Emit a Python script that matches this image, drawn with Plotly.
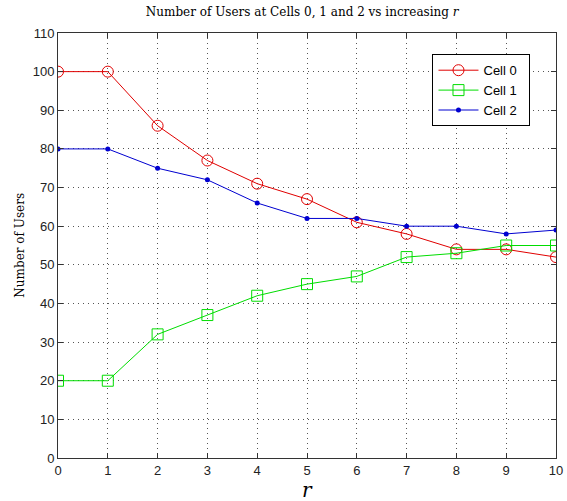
import plotly.graph_objects as go

r_values = [0, 1, 2, 3, 4, 5, 6, 7, 8, 9, 10]
cell0 = [100, 100, 86, 77, 71, 67, 61, 58, 54, 54, 52]
cell1 = [20, 20, 32, 37, 42, 45, 47, 52, 53, 55, 55]
cell2 = [80, 80, 75, 72, 66, 62, 62, 60, 60, 58, 59]
series_names = ["Cell 0", "Cell 1", "Cell 2"]
x_ticks = list(range(0, 11))
y_ticks = list(range(0, 111, 10))

pad = "\u00a0\u00a0"
fig = go.Figure()
fig.add_trace(go.Scatter(x=r_values, y=cell0, name=series_names[0] + pad, mode="lines+markers",
                         line=dict(color="#e00000", width=1),
                         marker=dict(symbol="circle-open", size=11, color="#e00000", line=dict(width=1))))
fig.add_trace(go.Scatter(x=r_values, y=cell1, name=series_names[1] + pad, mode="lines+markers",
                         line=dict(color="#00dd00", width=1),
                         marker=dict(symbol="square-open", size=11, color="#00dd00", line=dict(width=1))))
fig.add_trace(go.Scatter(x=r_values, y=cell2, name=series_names[2] + pad, mode="lines+markers",
                         line=dict(color="#0000d0", width=1),
                         marker=dict(symbol="circle", size=5, color="#0000d0")))

axis_common = dict(
    showline=True, linecolor="#333", linewidth=1, mirror="ticks",
    ticks="inside", ticklen=5, tickcolor="#333",
    showgrid=True, gridcolor="#555", griddash="1px,4px", gridwidth=1,
    zeroline=False, automargin=False,
    tickfont=dict(family="Liberation Sans, Arial", size=13, color="#222"),
)

fig.update_xaxes(range=[0, 10], tickvals=x_ticks, **axis_common)
fig.update_yaxes(range=[0, 110], tickvals=y_ticks, **axis_common)

fig.update_layout(
    width=567, height=501,
    margin=dict(l=58, r=11, t=33, b=43),
    paper_bgcolor="white", plot_bgcolor="white",
    title=dict(text="Number of Users at Cells 0, 1 and 2 vs increasing <i>r</i>",
               font=dict(family="DejaVu Serif, serif", size=12, color="black"),
               x=0.533, xanchor="center", y=0.985, yanchor="top"),
    legend=dict(x=0.752, y=0.95, xanchor="left", yanchor="top",
                bordercolor="black", borderwidth=1, bgcolor="white",
                font=dict(family="Liberation Sans, Arial", size=13, color="black"),
                tracegroupgap=0, itemwidth=40),
    showlegend=True,
)
fig.add_annotation(text="<i>r</i>", xref="paper", yref="paper", x=0.5, y=-0.075,
                   xanchor="center", yanchor="middle", showarrow=False,
                   font=dict(family="DejaVu Serif, serif", size=20, color="black"))
fig.add_annotation(text="Number of Users", xref="paper", yref="paper", x=-0.078, y=0.5,
                   xanchor="center", yanchor="middle", textangle=-90, showarrow=False,
                   font=dict(family="DejaVu Serif, serif", size=12, color="black"))

fig.write_html("out.html", config={"displayModeBar": False},
               post_script="document.body.style.margin='0';document.body.style.overflow='hidden';")
